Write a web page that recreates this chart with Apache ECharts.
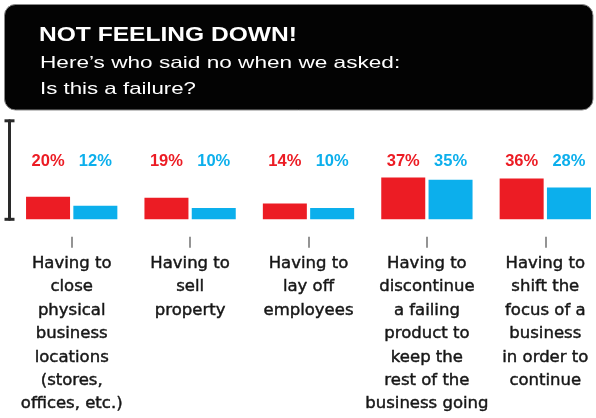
<!DOCTYPE html>
<html>
<head>
<meta charset="utf-8">
<script src="https://cdn.jsdelivr.net/npm/echarts@6/dist/echarts.min.js"></script>
<style>html,body{margin:0;padding:0;background:#fff}#c{width:596px;height:418px}</style>
</head>
<body>
<div id="c"></div>
<script>
const titleText = 'NOT FEELING DOWN!';
const subtitleLines = ['Here’s who said no when we asked:', 'Is this a failure?'];
const categories = [
  'Having to\nclose\nphysical\nbusiness\nlocations\n(stores,\noffices, etc.)',
  'Having to\nsell\nproperty',
  'Having to\nlay off\nemployees',
  'Having to\ndiscontinue\na failing\nproduct to\nkeep the\nrest of the\nbusiness going',
  'Having to\nshift the\nfocus of a\nbusiness\nin order to\ncontinue'
];
const redValues = [20, 19, 14, 37, 36];
const blueValues = [12, 10, 10, 35, 28];
const scaleMax = 87;

const RED = '#ec1c24';
const BLUE = '#0cafec';

const chart = echarts.init(document.getElementById('c'), null, {renderer: 'canvas'});
chart.setOption({
  animation: false,
  backgroundColor: '#ffffff',
  grid: {left: 12.5, width: 592, top: 120.8, bottom: 198.7, containLabel: false, outerBoundsMode: 'none'},
  xAxis: {
    type: 'category',
    data: categories,
    axisLine: {show: false},
    axisTick: {show: true, alignWithLabel: true, length: 28.4,
      lineStyle: {color: '#7a7a7a', width: 1.6, type: [0, 17.4, 11, 300]}},
    axisLabel: {
      interval: 0, margin: 32.8, color: '#161616',
      textBorderColor: '#161616', textBorderWidth: 0.45,
      fontFamily: 'DejaVu Sans', fontSize: 16.5, lineHeight: 23.4, align: 'center'
    },
    splitLine: {show: false}
  },
  yAxis: {
    type: 'value', min: 0, max: scaleMax, interval: scaleMax,
    offset: 3,
    axisLine: {show: true, symbol: ['rect', 'rect'], symbolSize: [10, 3], lineStyle: {color: '#2a2a2a', width: 3}},
    axisTick: {show: false},
    axisLabel: {show: false},
    splitLine: {show: false}
  },
  series: [
    {
      type: 'bar', data: redValues, barWidth: 44, barGap: '7.5%',
      itemStyle: {color: RED},
      label: {show: true, position: 'insideBottom', distance: 49.5, formatter: '{c}%',
        color: RED, fontFamily: 'Liberation Sans', fontWeight: 'bold', fontSize: 16.5, textBorderWidth: 0}
    },
    {
      type: 'bar', data: blueValues, barWidth: 44, barGap: '7.5%',
      itemStyle: {color: BLUE},
      label: {show: true, position: 'insideBottom', distance: 49.5, formatter: '{c}%',
        color: BLUE, fontFamily: 'Liberation Sans', fontWeight: 'bold', fontSize: 16.5, textBorderWidth: 0}
    }
  ],
  graphic: [
    {type: 'rect', shape: {x: 4.5, y: 4.5, width: 588.5, height: 105.5, r: 11},
     style: {fill: '#030303', stroke: '#8a8a8a', lineWidth: 1}, z: 0},
    {type: 'text', x: 39, y: 34.8, scaleX: 1.17, z: 1,
     style: {text: titleText, fill: '#ffffff', font: 'bold 21px "Liberation Sans"', align: 'left', verticalAlign: 'middle'}},
    {type: 'text', x: 40, y: 63.9, scaleX: 1.37, z: 1,
     style: {text: subtitleLines[0], fill: '#ffffff', font: '16.5px "Liberation Sans"', align: 'left', verticalAlign: 'middle'}},
    {type: 'text', x: 40, y: 89.2, scaleX: 1.35, z: 1,
     style: {text: subtitleLines[1], fill: '#ffffff', font: '16.5px "Liberation Sans"', align: 'left', verticalAlign: 'middle'}}
  ]
});
</script>
</body>
</html>
